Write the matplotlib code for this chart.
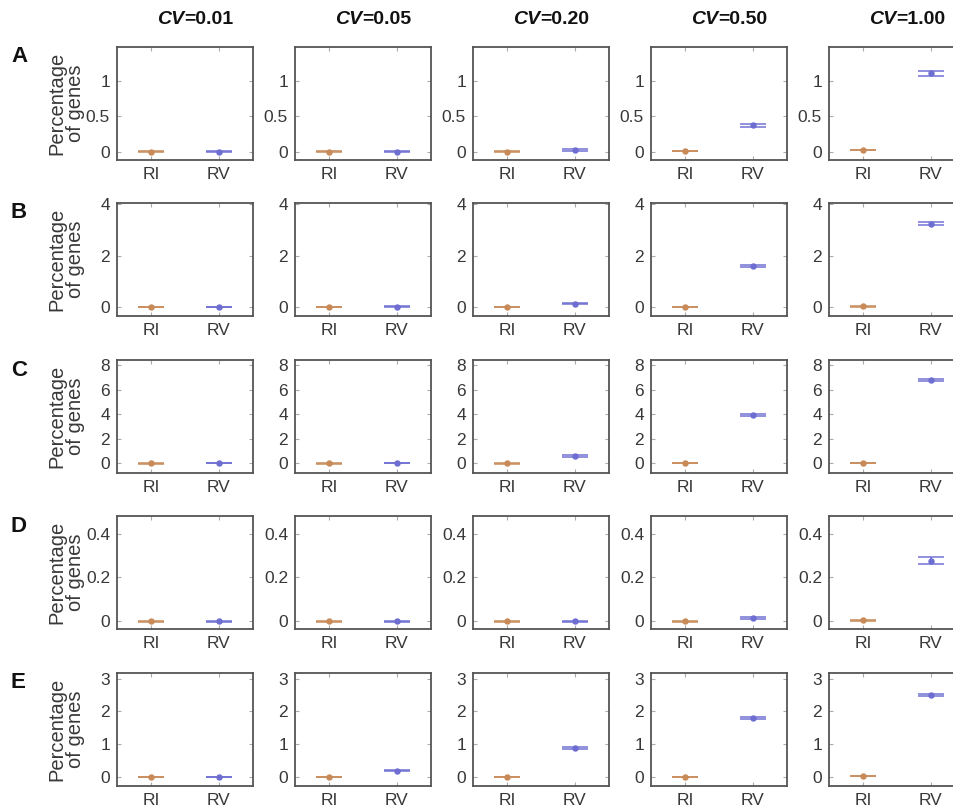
import matplotlib
matplotlib.use("Agg")
import matplotlib.pyplot as plt

plt.rcParams["font.family"] = ["Liberation Sans", "DejaVu Sans"]

# ---- data -------------------------------------------------------------
cv_labels = ["0.01", "0.05", "0.20", "0.50", "1.00"]
row_labels = ["A", "B", "C", "D", "E"]
groups = ["RI", "RV"]

# mean percentage of genes and half-width of the error bar, per row / CV
ri_mean = [
    [0.0, 0.0, 0.0, 0.005, 0.02],
    [0.0, 0.0, 0.0, 0.01, 0.02],
    [0.0, 0.0, 0.0, 0.02, 0.04],
    [0.0, 0.0, 0.0, 0.0, 0.004],
    [0.0, 0.0, 0.0, 0.01, 0.03],
]
ri_err = [
    [0.002, 0.002, 0.002, 0.003, 0.004],
    [0.005, 0.005, 0.005, 0.006, 0.008],
    [0.01, 0.01, 0.01, 0.012, 0.015],
    [0.001, 0.001, 0.001, 0.001, 0.002],
    [0.004, 0.004, 0.004, 0.005, 0.006],
]
rv_mean = [
    [0.0, 0.0, 0.02, 0.37, 1.11],
    [0.005, 0.01, 0.12, 1.6, 3.25],
    [0.01, 0.05, 0.6, 3.95, 6.8],
    [0.0, 0.0, 0.0, 0.015, 0.275],
    [0.005, 0.2, 0.88, 1.8, 2.5],
]
rv_err = [
    [0.002, 0.003, 0.01, 0.02, 0.035],
    [0.005, 0.01, 0.02, 0.04, 0.06],
    [0.01, 0.02, 0.05, 0.07, 0.07],
    [0.001, 0.001, 0.002, 0.006, 0.016],
    [0.005, 0.02, 0.03, 0.04, 0.04],
]

# y-axis ticks and limits for each row
row_yticks = [
    [0, 0.5, 1],
    [0, 2, 4],
    [0, 2, 4, 6, 8],
    [0, 0.2, 0.4],
    [0, 1, 2, 3],
]
row_yticklabels = [
    ["0", "0.5", "1"],
    ["0", "2", "4"],
    ["0", "2", "4", "6", "8"],
    ["0", "0.2", "0.4"],
    ["0", "1", "2", "3"],
]
row_ylim = [
    (-0.12, 1.48),
    (-0.35, 4.05),
    (-0.78, 8.4),
    (-0.035, 0.48),
    (-0.27, 3.17),
]

# ---- styling ----------------------------------------------------------
W, H = 954, 811
ri_color = "#C88A58"
rv_color = "#6E6ED2"
text_color = "#383838"
spine_color = "#555555"
cap_half = 0.185

col_left = [117, 295, 473, 651, 829]
row_top = [47, 203, 360, 516, 673]
ax_w, ax_h = 136, 113

fig = plt.figure(figsize=(W / 100, H / 100), dpi=100)


def draw_point(ax, x, mean, err, color):
    lo, hi = mean - err, mean + err
    ax.hlines([lo, hi], x - cap_half, x + cap_half, colors=color, lw=1.2, alpha=0.9)
    ax.vlines(x, lo, hi, colors=color, lw=1.1)
    ax.plot([x], [mean], "o", color=color, ms=3.6, mec=color)


for r in range(5):
    for c in range(5):
        left = col_left[c] / W
        bottom = 1 - (row_top[r] + ax_h) / H
        ax = fig.add_axes([left, bottom, ax_w / W, ax_h / H])
        draw_point(ax, 1, ri_mean[r][c], ri_err[r][c], ri_color)
        draw_point(ax, 2, rv_mean[r][c], rv_err[r][c], rv_color)

        ax.set_xlim(0.5, 2.5)
        ax.set_ylim(*row_ylim[r])
        ax.set_xticks([1, 2])
        ax.set_xticklabels(groups)
        ax.set_yticks(row_yticks[r])
        ax.set_yticklabels(row_yticklabels[r])
        ax.tick_params(direction="in", length=3, width=0.8, color="#aaaaaa",
                       top=True, right=True, labelsize=12.5,
                       labelcolor=text_color, pad=5)
        for s in ax.spines.values():
            s.set_color(spine_color)
            s.set_linewidth(1.3)

        if c == 0:
            ax.set_ylabel("Percentage\nof genes", fontsize=14.5,
                          color=text_color, linespacing=1.0)
            ax.yaxis.set_label_coords(-0.235, 0.5)

        if r == 0:
            xc = (col_left[c] + ax_w / 2 - 1) / W
            yc = 1 - 20 / H
            fig.text(xc, yc, "CV", ha="right", va="center", fontsize=14,
                     fontweight="bold", fontstyle="italic", color="#111111")
            fig.text(xc, yc, "=" + cv_labels[c], ha="left", va="center",
                     fontsize=14, fontweight="bold", color="#111111")

    fig.text(11 / W, 1 - (row_top[r] + 10) / H, row_labels[r], ha="left",
             va="center", fontsize=16, fontweight="bold", color="#111111")

fig.savefig("out.png", dpi=100, facecolor="white")
